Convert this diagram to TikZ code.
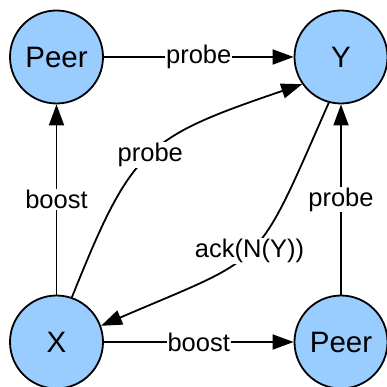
\documentclass[tikz,border=0pt]{standalone}
\usepackage{fontspec}
\setmainfont{Liberation Sans}
\usetikzlibrary{arrows.meta}
\definecolor{nodeblue}{HTML}{99CCFF}
\tikzset{
  peer/.style={circle, draw=black, line width=1.8pt, fill=nodeblue,
    minimum size=93pt, inner sep=0pt, font=\fontsize{29.5}{30}\selectfont},
  link/.style={line width=1.8pt, -{Triangle[length=21pt,width=15pt]}},
  tag/.style={fill=white, inner sep=1pt, font=\fontsize{25.5}{26}\selectfont}
}
\begin{document}
\begin{tikzpicture}[x=1pt, y=-1pt]
  \useasboundingbox (0,0) rectangle (386,387);
  \node[peer] (pa) at (56.5,57)  {Peer};
  \node[peer] (y)  at (341,57)   {Y};
  \node[peer] (x)  at (56.5,342) {X};
  \node[peer] (pb) at (341,342)  {Peer};

  \draw[link] (pa) -- node[tag] {probe} (y);
  \draw[link] (x)  -- node[tag] {boost} (pa);
  \draw[link] (x)  -- node[tag] {boost} (pb);
  \draw[link] (pb) -- node[tag] {probe} (y);
  \draw[link] (x.71) .. controls (132,148) and (144,138) ..
    node[tag, pos=0.5] {probe} (y.215);
  \draw[link] (y.255) .. controls (254,273) and (268,254) ..
    node[tag, pos=0.5] {ack(N(Y))} (x.20);
\end{tikzpicture}
\end{document}
